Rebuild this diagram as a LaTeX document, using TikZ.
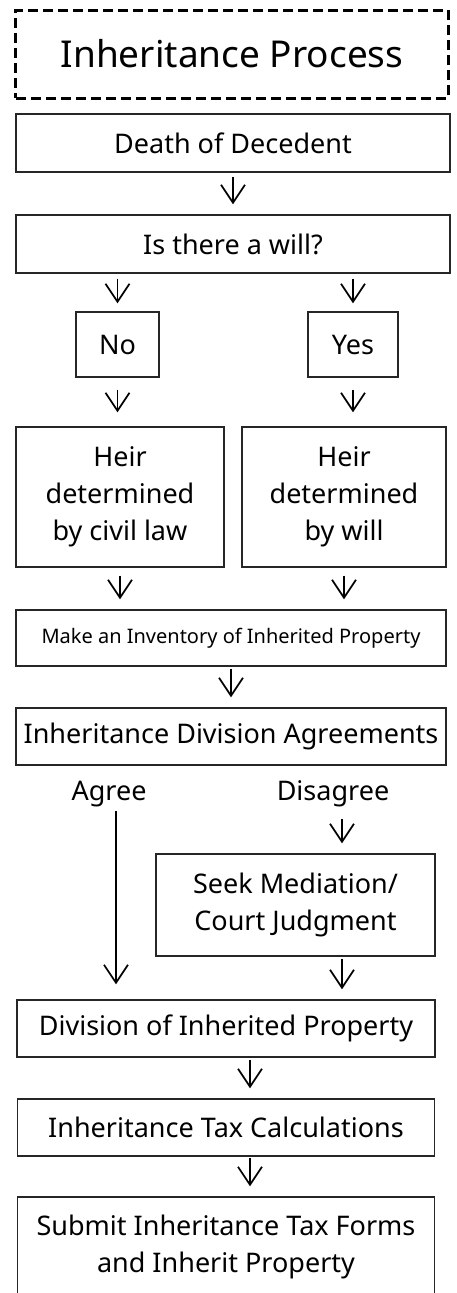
\documentclass[tikz,border=0pt]{standalone}
\usepackage{fontspec}
\setmainfont{Noto Sans}
\usepackage{tikz}
\usetikzlibrary{arrows.meta}
\tikzstyle{title} = [rectangle, draw=black, line width=3pt, dash pattern=on 10pt off 5pt, minimum width=432pt, minimum height=88pt, text centered, font=\fontsize{37pt}{44pt}\selectfont]
\tikzstyle{standard} = [rectangle, draw=black!85, line width=1.4pt, inner sep=0pt, align=center, font=\fontsize{27pt}{37pt}\selectfont]
\tikzstyle{small} = [standard, font=\fontsize{20pt}{26pt}\selectfont]
\tikzstyle{branch} = [inner sep=0pt, font=\fontsize{27pt}{37pt}\selectfont]
\tikzstyle{arrow} = [line width=1.7pt, -{Straight Barb[length=18pt,width=24pt]}, shorten <=4pt, shorten >=10pt]

\begin{document}
\begin{tikzpicture}[node distance=100pt]
	\useasboundingbox (-232pt,54pt) rectangle (224pt,-1239pt);

	\node (title) [title] {Inheritance Process};
	\node (death) [standard, below of=title, xshift=1pt, yshift=11pt, minimum width=434pt, minimum height=58pt] {Death of Decedent};
	\node (will) [standard, below of=death, yshift=-1pt, minimum width=434pt, minimum height=58pt] {Is there a will?};
	\node (no) [standard, below of=will, xshift=-115.5pt, yshift=-0.5pt, minimum width=83pt, minimum height=65pt] {No};
	\node (yes) [standard, below of=will, xshift=120pt, yshift=-0.5pt, minimum width=90pt, minimum height=65pt] {Yes};
	\node (heirL) [standard, below of=no, xshift=2.5pt, yshift=-52.5pt, minimum width=208pt, minimum height=140pt] {Heir\\determined\\by civil law};
	\node (heirR) [standard, below of=yes, xshift=-9pt, yshift=-52.5pt, minimum width=204pt, minimum height=140pt] {Heir\\determined\\by will};
	\node (inventory) [small, below of=heirL, xshift=111pt, yshift=-41pt, minimum width=430pt, minimum height=56pt] {Make an Inventory of Inherited Property};
	\node (agreements) [standard, below of=inventory, yshift=1.5pt, minimum width=430pt, minimum height=57pt] {Inheritance Division Agreements};
	\node (agree) [branch, below of=agreements, xshift=-122pt, yshift=42.5pt] {Agree};
	\node (disagree) [branch, below of=agreements, xshift=102pt, yshift=42.5pt] {Disagree};
	\node (seek) [standard, below of=disagree, xshift=-37.5pt, yshift=-11pt, minimum width=279pt, minimum height=102pt] {Seek Mediation/\\Court Judgment};
	\node (division) [standard, below of=seek, xshift=-69.5pt, yshift=-23.5pt, minimum width=418pt, minimum height=57pt] {Division of Inherited Property};
	\node (tax) [standard, below of=division, yshift=1pt, minimum width=417pt, minimum height=57pt] {Inheritance Tax Calculations};
	\node (submit) [standard, below of=tax, yshift=-19.5pt, minimum width=417pt, minimum height=100pt] {Submit Inheritance Tax Forms\\and Inherit Property};

	\coordinate (agreeline) at ([xshift=7pt]agree.south);
	\coordinate (disline) at ([xshift=9pt]disagree.south);

	\draw [arrow] (death) -- (will);
	\draw [arrow, shorten <=5pt, shorten >=8pt] (no |- will.south) -- (no);
	\draw [arrow, shorten <=5pt, shorten >=8pt] (yes |- will.south) -- (yes);
	\draw [arrow, shorten <=12pt, shorten >=14pt] (no) -- (no |- heirL.north);
	\draw [arrow, shorten <=12pt, shorten >=14pt] (yes) -- (yes |- heirR.north);
	\draw [arrow, shorten <=8pt] (heirL) -- (heirL |- inventory.north);
	\draw [arrow, shorten <=8pt] (heirR) -- (heirR |- inventory.north);
	\draw [arrow, shorten <=2pt] (inventory) -- (agreements);
	\draw [arrow, shorten >=15pt] (agreeline) -- (agreeline |- division.north);
	\draw [arrow, shorten <=12pt] (disline) -- (disline |- seek.north);
	\draw [arrow, shorten <=2pt] (disline |- seek.south) -- (disline |- division.north);
	\draw [arrow, shorten <=2pt] ([xshift=24pt]division.south) -- ([xshift=24pt]tax.north);
	\draw [arrow, shorten <=1pt] ([xshift=24pt]tax.south) -- ([xshift=24pt]submit.north);

\end{tikzpicture}
\end{document}
